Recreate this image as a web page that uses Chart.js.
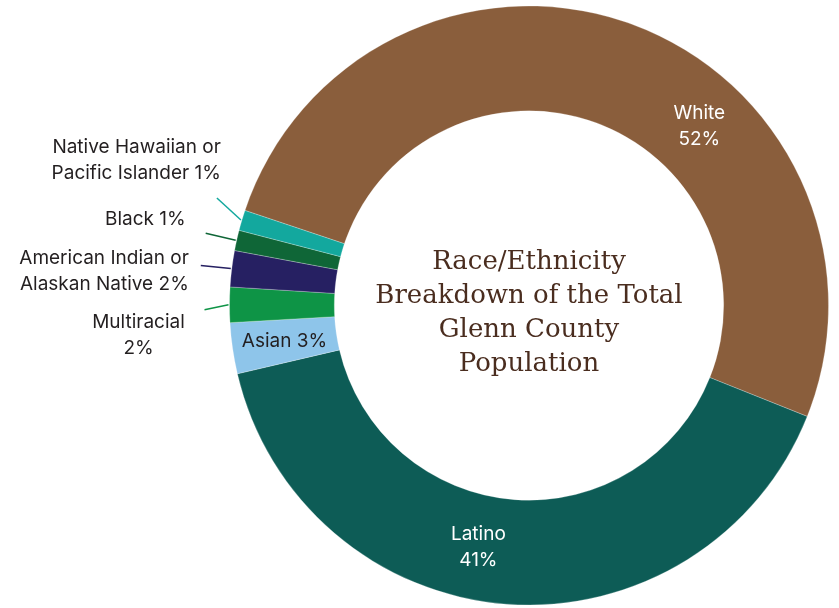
<!DOCTYPE html>
<html>
<head>
<meta charset="utf-8">
<title>Glenn County Race/Ethnicity</title>
<script src="https://cdn.jsdelivr.net/npm/chart.js@4.4.1/dist/chart.umd.min.js"></script>
<style>
html, body { margin: 0; padding: 0; background: #fff; }
#wrap { width: 839px; height: 608px; position: relative; }
</style>
</head>
<body>
<div id="wrap"><canvas id="popChart"></canvas></div>
<script>
// groups, clockwise starting from White
var groups = ["White", "Latino", "Asian", "Multiracial", "American Indian or Alaskan Native", "Black", "Native Hawaiian or Pacific Islander"];
// slice sizes (percent)
var shares = [50.9, 40.3, 2.75, 1.9, 1.95, 1.1, 1.1];
// label text as printed on the chart
var labelLines = [
	["White", "52%"],
	["Latino", "41%"],
	["Asian 3%"],
	["Multiracial", "2%"],
	["American Indian or", "Alaskan Native 2%"],
	["Black 1%"],
	["Native Hawaiian or", "Pacific Islander 1%"]
];
var titleLines = ["Race/Ethnicity", "Breakdown of the Total", "Glenn County", "Population"];

var sliceColors = ["#8a5e3c", "#0d5c56", "#8ec5ea", "#0e9446", "#262062", "#0f6637", "#13a89e"];

// where each label goes: inside the ring (at = fraction along the slice) or outside with a leader line
var labelLayout = [
	{ inside: true, at: 0.628, color: "#ffffff" },
	{ inside: true, at: 0.552, color: "#ffffff" },
	{ inside: true, at: 0.5, color: "#231f20" },
	{ at: 0.5, dx: -24, dy: 5, tx: -66, ty: 13, align: "center", line: "#0e9446" },
	{ at: 0.5, dx: -30, dy: -3, tx: -12, ty: -7, align: "right", line: "#262062" },
	{ at: 0.5, dx: -30, dy: -7, tx: -20, ty: -14, align: "right", line: "#0f6637" },
	{ at: 0.5, dx: -24, dy: -22, tx: 4, ty: -51, align: "right", line: "#13a89e" }
];

var labelFont = "19px Inter, 'Noto Sans', sans-serif";
var lineGap = 26;

var sliceLabels = {
	id: "sliceLabels",
	afterDatasetsDraw: function (chart) {
		var ctx = chart.ctx;
		var arcs = chart.getDatasetMeta(0).data;
		ctx.save();
		ctx.font = labelFont;
		ctx.textBaseline = "middle";
		arcs.forEach(function (arc, i) {
			var p = arc.getProps(["x", "y", "startAngle", "endAngle", "innerRadius", "outerRadius"]);
			var lay = labelLayout[i];
			var a = p.startAngle + (p.endAngle - p.startAngle) * lay.at;
			var lines = labelLines[i];
			if (lay.inside) {
				var r = (p.innerRadius + p.outerRadius) / 2;
				var cx = p.x + Math.cos(a) * r;
				var cy = p.y + Math.sin(a) * r;
				ctx.fillStyle = lay.color;
				ctx.textAlign = "center";
				lines.forEach(function (t, k) {
					ctx.fillText(t, cx, cy + (k - (lines.length - 1) / 2) * lineGap);
				});
			} else {
				var sx = p.x + Math.cos(a) * (p.outerRadius + 1);
				var sy = p.y + Math.sin(a) * (p.outerRadius + 1);
				var ex = sx + lay.dx, ey = sy + lay.dy;
				ctx.strokeStyle = lay.line;
				ctx.lineWidth = 1.5;
				ctx.beginPath();
				ctx.moveTo(sx, sy);
				ctx.lineTo(ex, ey);
				ctx.stroke();
				ctx.fillStyle = "#231f20";
				ctx.textAlign = lay.align;
				lines.forEach(function (t, k) {
					ctx.fillText(t, ex + lay.tx, ey + lay.ty + k * lineGap);
				});
			}
		});
		// title in the hole
		var c = arcs[0].getProps(["x", "y"]);
		ctx.font = "26px 'DejaVu Serif', serif";
		ctx.fillStyle = "#4a2d1f";
		ctx.textAlign = "center";
		titleLines.forEach(function (t, k) {
			ctx.fillText(t, c.x, c.y + 8 + (k - 1.5) * 34);
		});
		ctx.restore();
	}
};

var popCanvas = document.getElementById("popChart").getContext("2d");
var donut = new Chart(popCanvas, {
	type: "doughnut",
	data: {
		labels: groups,
		datasets: [{
			data: shares,
			backgroundColor: sliceColors,
			borderColor: "rgba(255,255,255,0.25)",
			borderWidth: 1,
			hoverOffset: 0
		}]
	},
	options: {
		responsive: true,
		maintainAspectRatio: false,
		animation: false,
		cutout: "65%",
		rotation: 288.5,
		layout: { padding: { left: 229, right: 10, top: 5, bottom: 2 } },
		plugins: {
			legend: { display: false },
			tooltip: { enabled: false }
		}
	},
	plugins: [sliceLabels]
});
</script>
</body>
</html>
